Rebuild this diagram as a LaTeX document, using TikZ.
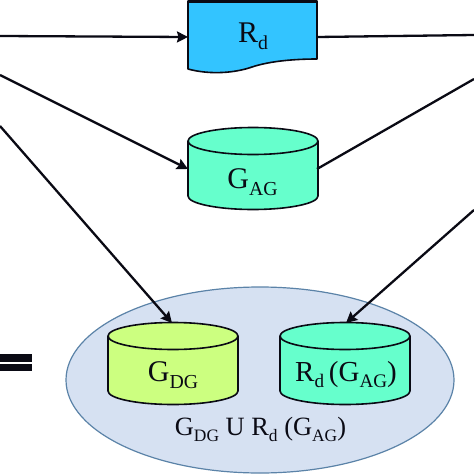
\documentclass[tikz,border=0pt]{standalone}
\usepackage{fontspec}
\setmainfont{Liberation Serif}
\usetikzlibrary{arrows.meta}
\definecolor{docblue}{HTML}{33C4FF}
\definecolor{cylgreen}{HTML}{66FFCC}
\definecolor{cyllime}{HTML}{CCFF80}
\definecolor{ellfill}{HTML}{D6E1F2}
\definecolor{ellline}{HTML}{5B83A8}
\definecolor{ink}{HTML}{0A0A14}
\tikzset{
  conn/.style={draw=ink,line width=2.3pt,-{Stealth[length=11pt,width=11pt,inset=1.5pt]}},
  plainconn/.style={draw=ink,line width=2.3pt},
  lab/.style={font=\fontsize{30}{32}\selectfont,inner sep=0pt,text=ink,anchor=base},
  shapeline/.style={draw=ink,line width=1.6pt,line join=round}
}
\newcommand{\lsub}[1]{\raisebox{-0.24em}{\scalebox{0.66}{#1}}}
\newcommand{\cyl}[4]{%
  \filldraw[shapeline,fill=#4] (#1,#2) -- (#1,#3) arc[start angle=180,end angle=360,x radius=65,y radius=13.5]
    -- (#1+130,#2) arc[start angle=0,end angle=180,x radius=65,y radius=13.5] -- cycle;
  \draw[shapeline] (#1,#2) arc[start angle=180,end angle=360,x radius=65,y radius=13.5];
}
\begin{document}
\begin{tikzpicture}[x=1pt,y=1pt]
\useasboundingbox (0,0) rectangle (474,-474);
\fill[white] (0,0) rectangle (474,-474);
% ellipse
\filldraw[draw=ellline,fill=ellfill,line width=1.2pt] (260,-380) ellipse[x radius=194,y radius=93];
% Rd document
\filldraw[shapeline,fill=docblue] (188,-1) -- (188,-69) .. controls (210,-75) and (235,-73) .. (252,-67) .. controls (270,-61) and (295,-59) .. (317,-59) -- (317,-1) -- cycle;
\fill[ink] (188,0) rectangle (317,-2.5);
\cyl{188}{-141}{-196}{cylgreen}
\cyl{108}{-336}{-391}{cyllime}
\cyl{280}{-336}{-391}{cylgreen}
% equals
\fill[ink] (0,-354) rectangle (32,-362);
\fill[ink] (0,-364) rectangle (32,-371);
% labels
\node[lab] (rd) at (253,-42) {R\lsub{d}};
\node[lab] (gag) at (252.5,-188) {G\lsub{AG}};
\node[lab] (gdg) at (173,-381) {G\lsub{DG}};
\node[lab,font=\fontsize{29}{31}\selectfont] (rdg) at (346,-381) {R\lsub{d}\,(G\lsub{AG})};
\node[lab,font=\fontsize{26.4}{28}\selectfont] (union) at (260.5,-435) {G\lsub{DG} U R\lsub{d} (G\lsub{AG})};
% connector end points
\coordinate (l1) at (0,-36);
\coordinate (l2) at (0,-75);
\coordinate (l3) at (0,-126);
\coordinate (r1) at (474,-35);
\coordinate (r2) at (474,-79);
\coordinate (r3) at (474,-210);
\coordinate (rdL) at (188,-37);
\coordinate (rdR) at (317,-37);
\coordinate (gagL) at (188,-169);
\coordinate (gagR) at (317,-169);
\coordinate (gdgT) at (172,-323);
\coordinate (rdgT) at (346,-323);
\draw[conn] (l1) -- (rdL);
\draw[conn] (l2) -- (gagL);
\draw[conn] (l3) -- (gdgT);
\draw[plainconn] (rdR) -- (r1);
\draw[plainconn] (gagR) -- (r2);
\draw[conn] (r3) -- (rdgT);
\end{tikzpicture}
\end{document}
